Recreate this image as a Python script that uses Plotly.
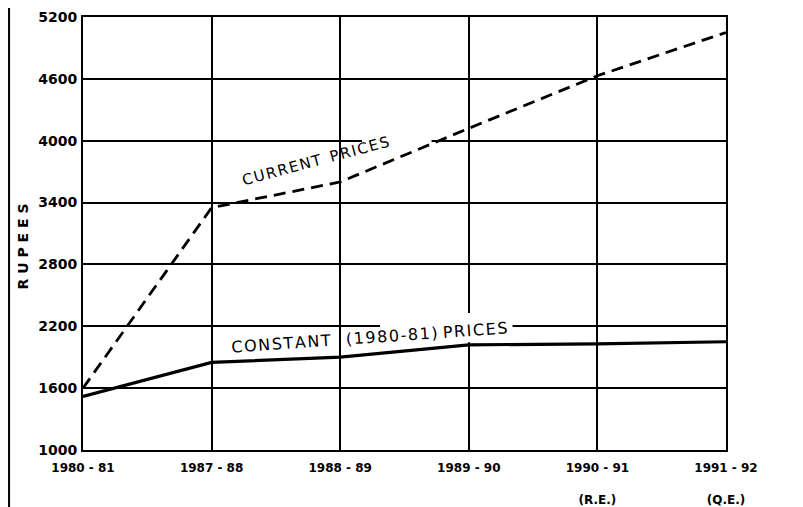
import plotly.graph_objects as go

years = ["1980 - 81", "1987 - 88", "1988 - 89", "1989 - 90", "1990 - 91<br><br>(R.E.)", "1991 - 92<br><br>(Q.E.)"]
current_prices = [1600, 3350, 3600, 4120, 4630, 5050]
constant_prices = [1520, 1850, 1900, 2020, 2030, 2050]
y_ticks = [1000, 1600, 2200, 2800, 3400, 4000, 4600, 5200]

x_idx = list(range(len(years)))
FONT = "DejaVu Sans"
HS = "\u200a"


def spaced(s):
    return HS.join(list(s))


fig = go.Figure()
fig.add_trace(go.Scatter(x=x_idx, y=current_prices, mode="lines",
                         line=dict(color="black", width=2.8, dash="12px,7px"),
                         showlegend=False, hoverinfo="skip"))
fig.add_trace(go.Scatter(x=x_idx, y=constant_prices, mode="lines",
                         line=dict(color="black", width=3.2),
                         showlegend=False, hoverinfo="skip"))

# white patches where the gridlines are broken behind labels
fig.add_shape(type="rect", layer="between", x0=2.31, x1=3.34, y0=2045, y1=2330,
              line=dict(width=0), fillcolor="white")
fig.add_shape(type="rect", layer="between", x0=2.17, x1=2.71, y0=3975, y1=4070,
              line=dict(width=0), fillcolor="white")

# left page border
fig.add_shape(type="line", xref="paper", yref="paper",
              x0=-0.1150, x1=-0.1150, y0=-0.16, y1=1.04,
              line=dict(color="black", width=2))

fig.add_annotation(x=1.81, y=3800, text=spaced("CURRENT") + "  " + spaced("PRICES"), showarrow=False,
                   textangle=-15, font=dict(family=FONT, size=15, color="black"))
fig.add_annotation(x=2.23, y=2090,
                   text=spaced("CONSTANT") + "   " + spaced("(1980-81)") + " " + spaced("PRICES"),
                   showarrow=False, textangle=-4,
                   font=dict(family=FONT, size=16, color="black"))
fig.add_annotation(xref="paper", yref="paper", x=-0.0933, y=0.47,
                   xanchor="center", yanchor="middle",
                   text="R U P E E S", showarrow=False, textangle=-90,
                   font=dict(family=FONT, size=14, color="black", weight="bold"))

fig.update_xaxes(range=[0, 5], tickmode="array", tickvals=x_idx, ticktext=years,
                 showgrid=True, gridcolor="black", gridwidth=1.6,
                 showline=True, linecolor="black", linewidth=2, mirror=True,
                 ticks="", ticklabelstandoff=6, zeroline=False, automargin=False,
                 ticklabeloverflow="allow",
                 tickfont=dict(family=FONT, size=12, color="black", weight="bold"))
fig.update_yaxes(range=[1000, 5200], tickmode="array", tickvals=y_ticks,
                 showgrid=True, gridcolor="black", gridwidth=1.6,
                 showline=True, linecolor="black", linewidth=2, mirror=True,
                 ticks="", ticklabelstandoff=1, zeroline=False, automargin=False,
                 ticklabeloverflow="allow",
                 tickfont=dict(family=FONT, size=14, color="black", weight="bold"))

# page body has an 8px default margin, so the figure is sized to fit the window
fig.update_layout(width=795, height=499,
                  margin=dict(l=75, r=77, t=9, b=57),
                  plot_bgcolor="white", paper_bgcolor="white")

fig.write_html("out.html")
